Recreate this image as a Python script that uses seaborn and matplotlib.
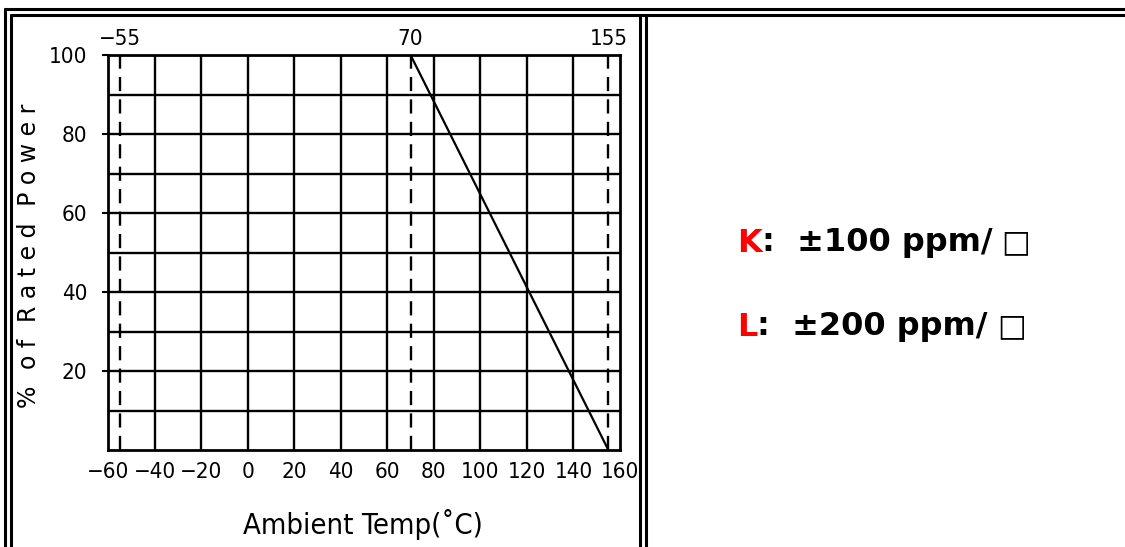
import matplotlib
matplotlib.use("Agg")
import matplotlib.pyplot as plt
from matplotlib.lines import Line2D
import seaborn as sns
import pandas as pd

# ---- data ----
curve_temp = [-55, 70, 155]
curve_power = [100, 100, 0]
marker_temps = [-55, 70, 155]
marker_labels = ["\u221255", "70", "155"]
x_ticks = [-60, -40, -20, 0, 20, 40, 60, 80, 100, 120, 140, 160]
x_tick_labels = ["\u221260", "\u221240", "\u221220", "0", "20", "40", "60", "80", "100", "120", "140", "160"]
y_major = [20, 40, 60, 80, 100]
y_grid = [10, 20, 30, 40, 50, 60, 70, 80, 90]
codes = ["K", "L"]
tcr_text = [":  \u00b1100 ppm/", ":  \u00b1200 ppm/"]

sns.set_style("white")
plt.rcParams["font.family"] = ["DejaVu Sans"]
for k in ["text.color", "axes.labelcolor", "xtick.color", "ytick.color"]:
    plt.rcParams[k] = "black"

W, H = 1125, 547
fig = plt.figure(figsize=(W / 100, H / 100), dpi=100)
fig.patch.set_facecolor("white")

def px(x0, y0, x1, y1):
    return [x0 / W, 1 - y1 / H, (x1 - x0) / W, (y1 - y0) / H]

ax = fig.add_axes(px(108, 55, 620, 450))
ax.set_xlim(-60, 160)
ax.set_ylim(0, 100)

df = pd.DataFrame({"temp": curve_temp, "power": curve_power})
for xv in x_ticks[1:-1]:
    ax.axvline(xv, color="black", lw=1.7, zorder=1)
for yv in y_grid:
    ax.axhline(yv, color="black", lw=1.7, zorder=1)
for t in marker_temps:
    ax.axvline(t, color="black", lw=1.7, ls=(0, (6, 3.5)), zorder=2)
sns.lineplot(data=df, x="temp", y="power", color="black", lw=1.6, ax=ax, zorder=3)

for s in ax.spines.values():
    s.set_color("black")
    s.set_linewidth(2)
    s.set_visible(True)

tickfont = dict(fontsize=16, fontstretch="condensed")
ax.set_xticks(x_ticks)
ax.set_xticklabels(x_tick_labels, **tickfont)
ax.set_yticks(y_major)
ax.set_yticklabels([str(v) for v in y_major], **tickfont)
ax.tick_params(axis="x", length=0, pad=9)
ax.tick_params(axis="y", length=4, width=1.5, direction="out", pad=11, left=True)
ax.set_xlabel("Ambient Temp(\u02daC)", fontsize=21, labelpad=0, fontstretch="condensed")
ax.xaxis.set_label_coords(363 / W, 1 - 525 / H, transform=fig.transFigure)
ax.xaxis.label.set_va("center")
ylab = "%\u2002\u2009o f\u2002\u2009R a t e d\u2002\u2009P o w e r"
ax.set_ylabel(ylab, fontsize=17)
ax.yaxis.set_label_coords(29 / W, 1 - 256 / H, transform=fig.transFigure)
ax.yaxis.label.set_va("center")

top = ax.secondary_xaxis("top")
top.set_xticks(marker_temps)
top.set_xticklabels(marker_labels, **tickfont)
top.tick_params(length=0, pad=4)
top.spines["top"].set_visible(False)

def hline(y, x0, x1, lw=2.2):
    fig.add_artist(Line2D([x0 / W, x1 / W], [1 - y / H, 1 - y / H], color="black", lw=lw))

def vline(x, y0, y1, lw=2.2):
    fig.add_artist(Line2D([x / W, x / W], [1 - y0 / H, 1 - y1 / H], color="black", lw=lw))

hline(9, 5, W)
hline(15, 11, W)
vline(5, 9, H)
vline(11, 15, H)
vline(640, 15, H)
vline(646, 15, H)

bold = ["DejaVu Sans"]
for i, (c, t) in enumerate(zip(codes, tcr_text)):
    y = 1 - (243 + i * 84) / H
    txt = fig.text(737 / W, y, c, color="#ff0000", fontsize=23, fontweight="bold",
                   fontfamily=bold, va="center", ha="left")
    fig.canvas.draw()
    bb = txt.get_window_extent()
    t2 = fig.text(bb.x1 / W, y, t, color="black", fontsize=23, fontweight="bold",
                  fontfamily=bold, va="center", ha="left")
    bb2 = t2.get_window_extent()
    fig.text(bb2.x1 / W + 0.008, y, "\u25a1", color="black", fontsize=22,
             fontfamily=bold, va="center", ha="left")

fig.savefig("out.png", dpi=100)
